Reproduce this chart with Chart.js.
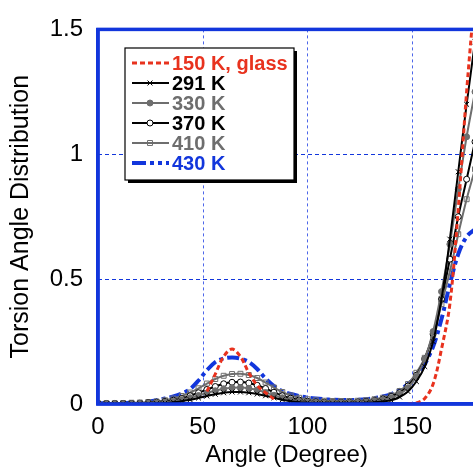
<!DOCTYPE html>
<html>
<head>
<meta charset="utf-8">
<script src="https://cdn.jsdelivr.net/npm/chart.js@4.4.1/dist/chart.umd.min.js"></script>
<style>
  html, body { margin: 0; padding: 0; background: #fff; overflow: hidden; }
  canvas { display: block; }
</style>
</head>
<body>
<canvas id="torsion-chart" width="480" height="468"></canvas>
<script>
// torsion angle (degree)
var angles = [0, 4, 8, 12, 16, 20, 24, 28, 32, 36, 40, 44, 48, 52, 56, 60, 64, 68, 72, 76,
  80, 84, 88, 92, 96, 100, 104, 108, 112, 116, 120, 124, 128, 132, 136, 140, 144, 148, 152, 156,
  160, 164, 168, 172, 176, 180];

var glass150 = [null, null, null, null, null, null, null, null, null, null, null, null, null, 0.05, 0.12, 0.19, 0.22, 0.19, 0.125, 0.075,
  0.045, 0.02, null, null, null, null, null, null, null, null, null, null, null, null, null, null, null, 0, 0.004, 0.022,
  0.08, 0.22, 0.4, 0.78, 1.25, 1.65];
var t291 = [0.001, 0.001, 0.001, 0.001, 0.001, 0.001, 0.001, 0.002, 0.004, 0.007, 0.011, 0.017, 0.024, 0.032, 0.039, 0.045, 0.048, 0.048, 0.045, 0.04,
  0.033, 0.025, 0.017, 0.011, 0.007, 0.005, 0.003, 0.003, 0.003, 0.003, 0.003, 0.003, 0.005, 0.007, 0.01, 0.015, 0.028, 0.05, 0.09, 0.15,
  0.25, 0.42, 0.66, 0.93, 1.2, 1.45];
var t330 = [0.001, 0.001, 0.001, 0.001, 0.001, 0.002, 0.003, 0.005, 0.007, 0.011, 0.017, 0.025, 0.034, 0.044, 0.053, 0.061, 0.065, 0.066, 0.063, 0.056,
  0.046, 0.035, 0.025, 0.017, 0.012, 0.008, 0.006, 0.005, 0.005, 0.005, 0.005, 0.006, 0.008, 0.012, 0.017, 0.025, 0.04, 0.065, 0.11, 0.18,
  0.29, 0.45, 0.64, 0.86, 1.07, 1.25];
var t370 = [0.002, 0.002, 0.002, 0.002, 0.002, 0.003, 0.005, 0.007, 0.01, 0.015, 0.022, 0.033, 0.045, 0.058, 0.07, 0.081, 0.087, 0.088, 0.084, 0.075,
  0.062, 0.047, 0.033, 0.023, 0.016, 0.011, 0.008, 0.007, 0.006, 0.006, 0.007, 0.008, 0.01, 0.014, 0.02, 0.03, 0.045, 0.072, 0.115, 0.18,
  0.28, 0.42, 0.58, 0.75, 0.9, 1.05];
var t410 = [0.003, 0.003, 0.003, 0.004, 0.005, 0.006, 0.008, 0.01, 0.015, 0.022, 0.032, 0.046, 0.063, 0.082, 0.1, 0.113, 0.12, 0.121, 0.116, 0.104,
  0.086, 0.066, 0.048, 0.034, 0.025, 0.019, 0.015, 0.013, 0.012, 0.012, 0.012, 0.013, 0.015, 0.019, 0.025, 0.035, 0.052, 0.08, 0.125, 0.185,
  0.275, 0.4, 0.53, 0.68, 0.82, 0.94];
var t430 = [0.003, 0.003, 0.003, 0.004, 0.005, 0.007, 0.01, 0.015, 0.022, 0.03, 0.042, 0.06, 0.094, 0.135, 0.168, 0.182, 0.186, 0.182, 0.168, 0.14,
  0.102, 0.072, 0.052, 0.04, 0.032, 0.026, 0.022, 0.019, 0.017, 0.016, 0.016, 0.017, 0.019, 0.023, 0.03, 0.04, 0.055, 0.08, 0.11, 0.16,
  0.23, 0.34, 0.48, 0.6, 0.67, 0.7];

var xTicks = [0, 50, 100, 150];
var yTicks = [0, 0.5, 1, 1.5];

var red = "#e8321e";
var blue = "#1236dc";
var grey = "#6e6e6e";
var fontFamily = "'Liberation Sans', Arial, sans-serif";

function pts(values) {
  return angles.map(function(a, i) { return { x: a, y: values[i] }; });
}

function series(label, values, color, extra) {
  var ds = {
    label: label,
    data: pts(values),
    borderColor: color,
    backgroundColor: color,
    textColor: color,
    borderWidth: 2,
    pointRadius: 0,
    pointBorderWidth: 1,
    pointBorderColor: color,
    pointBackgroundColor: color,
    tension: 0.35,
    fill: false
  };
  for (var k in extra) ds[k] = extra[k];
  return ds;
}

// dashed grid lines inside the plot
var dashedGrid = {
  id: "dashedGrid",
  beforeDatasetsDraw: function(chart) {
    var a = chart.chartArea, ctx = chart.ctx;
    var xs = chart.scales.x, ys = chart.scales.y;
    ctx.save();
    ctx.lineWidth = 1;
    ctx.strokeStyle = "#4d66ea";
    ctx.setLineDash([3, 3]);
    xTicks.slice(1).forEach(function(v) {
      var px = Math.round(xs.getPixelForValue(v)) + 0.5;
      ctx.beginPath();
      ctx.moveTo(px, a.top);
      ctx.lineTo(px, a.bottom);
      ctx.stroke();
    });
    ctx.strokeStyle = blue;
    ctx.setLineDash([4, 3]);
    yTicks.slice(1, -1).forEach(function(v) {
      var py = Math.round(ys.getPixelForValue(v)) + 0.5;
      ctx.beginPath();
      ctx.moveTo(a.left, py);
      ctx.lineTo(a.right, py);
      ctx.stroke();
    });
    ctx.restore();
  }
};

// full frame around the plot area
var frame = {
  id: "frame",
  afterDatasetsDraw: function(chart) {
    var a = chart.chartArea, ctx = chart.ctx;
    ctx.save();
    ctx.strokeStyle = blue;
    ctx.lineWidth = 3.5;
    ctx.strokeRect(a.left, a.top, a.right - a.left, a.bottom - a.top);
    ctx.restore();
  }
};

// legend box drawn on the canvas
var boxLegend = {
  id: "boxLegend",
  afterDraw: function(chart) {
    var ctx = chart.ctx;
    var bx = 125, by = 48, bw = 169, bh = 132;
    ctx.save();
    ctx.fillStyle = "#000";
    ctx.fillRect(bx + 3, by + 3, bw, bh);
    ctx.fillStyle = "#fff";
    ctx.fillRect(bx, by, bw, bh);
    ctx.strokeStyle = "#000";
    ctx.lineWidth = 1.2;
    ctx.strokeRect(bx, by, bw, bh);

    ctx.font = "bold 20px " + fontFamily;
    ctx.textBaseline = "middle";
    chart.data.datasets.forEach(function(ds, i) {
      var y = 63 + i * 20;
      ctx.save();
      ctx.strokeStyle = ds.borderColor;
      ctx.lineWidth = ds.borderWidth;
      ctx.setLineDash(ds.legendDash || ds.borderDash || []);
      ctx.beginPath();
      ctx.moveTo(132, y);
      ctx.lineTo(169, y);
      ctx.stroke();
      ctx.setLineDash([]);
      if (ds.pointStyle) {
        ctx.fillStyle = ds.pointBackgroundColor;
        ctx.strokeStyle = ds.pointBorderColor;
        ctx.lineWidth = 1;
        Chart.helpers.drawPoint(ctx, {
          pointStyle: ds.pointStyle,
          radius: ds.pointRadius,
          rotation: 0,
          borderWidth: 1
        }, 150, y);
      }
      ctx.restore();
      ctx.fillStyle = ds.textColor;
      ctx.fillText(ds.label, 172, y + 1);
    });
    ctx.restore();
  }
};

new Chart(document.getElementById("torsion-chart"), {
  type: "line",
  data: {
    datasets: [
      series("150 K, glass", glass150, red, { borderWidth: 3, borderDash: [5, 3], order: 1 }),
      series("291 K", t291, "#000", { pointStyle: "crossRot", pointRadius: 3.5, order: 2 }),
      series("330 K", t330, grey, { pointStyle: "circle", pointRadius: 3, order: 3 }),
      series("370 K", t370, "#000", { pointStyle: "circle", pointRadius: 3, pointBackgroundColor: "#fff", order: 4 }),
      series("410 K", t410, grey, { pointStyle: "rect", pointRadius: 3.5, pointBackgroundColor: "rgba(255,255,255,0)", order: 5 }),
      series("430 K", t430, blue, { borderWidth: 4, borderDash: [12, 4, 4, 4], legendDash: [14, 4, 4, 4, 4, 4], order: 6 })
    ]
  },
  options: {
    responsive: false,
    animation: false,
    layout: { padding: { top: 23, right: 3, left: 0, bottom: 0 } },
    plugins: {
      legend: { display: false },
      tooltip: { enabled: false }
    },
    scales: {
      x: {
        type: "linear",
        min: 0,
        max: 180,
        afterFit: function(s) { s.height = 64; },
        afterBuildTicks: function(s) { s.ticks = xTicks.map(function(v) { return { value: v }; }); },
        grid: { display: false, drawTicks: false },
        border: { color: blue, width: 3.5 },
        ticks: {
          color: "#000",
          padding: 9,
          maxRotation: 0,
          font: { family: fontFamily, size: 24 }
        },
        title: {
          display: true,
          text: "Angle (Degree)",
          color: "#000",
          padding: { top: 0, bottom: 1 },
          font: { family: fontFamily, size: 24, lineHeight: 1 }
        }
      },
      y: {
        min: 0,
        max: 1.5,
        afterFit: function(s) { s.width = 98; },
        afterBuildTicks: function(s) { s.ticks = yTicks.map(function(v) { return { value: v }; }); },
        grid: { display: false, drawTicks: false },
        border: { color: blue, width: 3.5 },
        ticks: {
          color: "#000",
          padding: 15,
          font: { family: fontFamily, size: 24 },
          callback: function(v) { return String(v); }
        },
        title: {
          display: true,
          text: "Torsion Angle Distribution",
          color: "#000",
          padding: { top: 6, bottom: 0 },
          font: { family: fontFamily, size: 25 }
        }
      }
    }
  },
  plugins: [dashedGrid, frame, boxLegend]
});
</script>
</body>
</html>
